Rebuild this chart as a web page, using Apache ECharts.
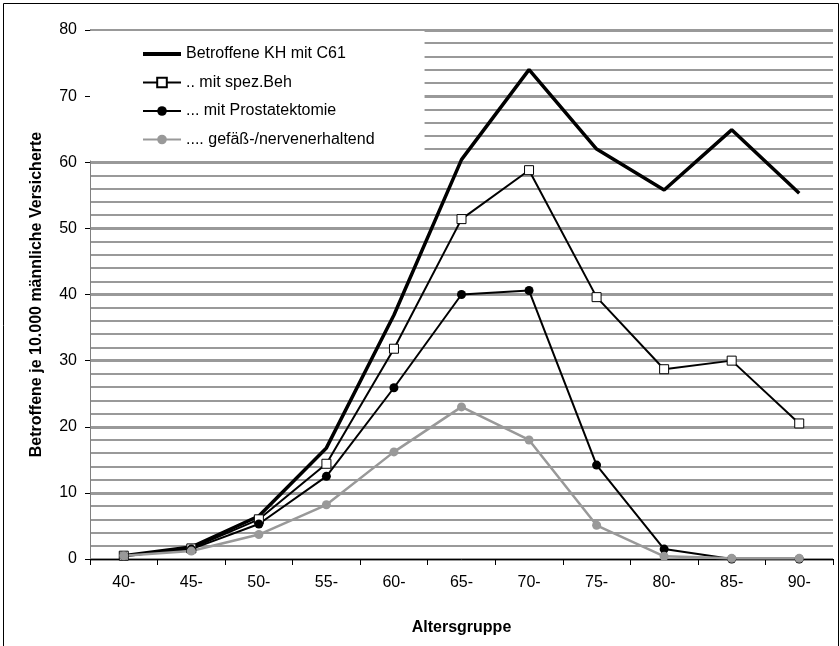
<!DOCTYPE html>
<html>
<head>
<meta charset="utf-8">
<title>Betroffene je Altersgruppe</title>
<script src="https://cdn.jsdelivr.net/npm/echarts@6/dist/echarts.min.js"></script>
<style>
    html, body { margin: 0; padding: 0; background: #fff; }
    #chart { width: 840px; height: 646px; }
</style>
</head>
<body>
<div id="chart"></div>
<script>
// Altersgruppen
var ageGroups = ['40-', '45-', '50-', '55-', '60-', '65-', '70-', '75-', '80-', '85-', '90-'];

// Betroffene je 10.000 männliche Versicherte
var khC61 = [0.5, 1.8, 6.5, 16.8, 36.9, 60.4, 74.0, 62.0, 55.8, 64.9, 55.3];
var spezBeh = [0.5, 1.6, 6.0, 14.4, 31.8, 51.4, 58.8, 39.6, 28.7, 30.0, 20.5];
var prostatektomie = [0.5, 1.5, 5.3, 12.5, 25.9, 40.0, 40.6, 14.2, 1.5, 0, 0];
var nervenerhaltend = [0.5, 1.2, 3.7, 8.2, 16.2, 23.0, 18.0, 5.1, 0.4, 0.1, 0.1];

var seriesNames = ['Betroffene KH mit C61', '.. mit spez.Beh', '... mit Prostatektomie', '.... gefäß-/nervenerhaltend'];

(function () {
    var chart = echarts.init(document.getElementById('chart'));
    var font = 'Liberation Sans, Arial, sans-serif';
    var grey = '#999999';

    chart.setOption({
        animation: false,
        textStyle: { fontFamily: font },
        // Rahmen um das ganze Bild
        graphic: [{
            type: 'rect',
            shape: { x: 3.5, y: 3.5, width: 835, height: 660 },
            style: { fill: null, stroke: '#000', lineWidth: 1 },
            silent: true
        }],
        grid: {
            left: 90,
            right: 7,
            top: 30,
            bottom: 87
        },
        legend: {
            orient: 'vertical',
            left: 90,
            top: 31,
            padding: [15, 50, 13, 52],
            itemGap: 12.5,
            itemWidth: 38,
            itemHeight: 12,
            backgroundColor: '#fff',
            textStyle: { fontSize: 16, color: '#000', fontFamily: font },
            data: [
                // nur Linie, kein Symbol
                { name: seriesNames[0], icon: 'path://M0,0H38V4H0Z' },
                seriesNames[1],
                seriesNames[2],
                seriesNames[3]
            ]
        },
        xAxis: {
            type: 'category',
            data: ageGroups,
            boundaryGap: true,
            name: 'Altersgruppe',
            nameLocation: 'middle',
            nameGap: 61,
            nameTextStyle: { fontSize: 16, fontWeight: 'bold', color: '#000' },
            axisLine: { lineStyle: { color: '#000', width: 1 } },
            axisTick: { show: true, length: 6, lineStyle: { color: '#000' } },
            axisLabel: { fontSize: 16, color: '#000', margin: 16 },
            splitLine: { show: false }
        },
        yAxis: {
            type: 'value',
            min: 0,
            max: 80,
            interval: 10,
            name: 'Betroffene je 10.000 männliche Versicherte',
            nameLocation: 'middle',
            nameGap: 45,
            nameTextStyle: { fontSize: 16, fontWeight: 'bold', color: '#000' },
            axisLine: { show: true, lineStyle: { color: '#808080', width: 1 } },
            axisTick: { show: true, length: 5, lineStyle: { color: '#000' } },
            axisLabel: { fontSize: 16, color: '#000', margin: 13 },
            splitLine: { show: true, lineStyle: { color: grey, width: 3 } },
            minorTick: { show: false, splitNumber: 5 },
            minorSplitLine: { show: true, lineStyle: { color: grey, width: 2 } }
        },
        series: [
            {
                name: seriesNames[0],
                type: 'line',
                data: khC61,
                symbol: 'none',
                lineStyle: { color: '#000', width: 3.5 },
                itemStyle: { color: '#000' }
            },
            {
                name: seriesNames[1],
                type: 'line',
                data: spezBeh,
                symbol: 'rect',
                symbolSize: 9,
                lineStyle: { color: '#000', width: 2 },
                itemStyle: { color: '#fff', borderColor: '#000', borderWidth: 1 }
            },
            {
                name: seriesNames[2],
                type: 'line',
                data: prostatektomie,
                symbol: 'circle',
                symbolSize: 9,
                lineStyle: { color: '#000', width: 2 },
                itemStyle: { color: '#000' }
            },
            {
                name: seriesNames[3],
                type: 'line',
                data: nervenerhaltend,
                symbol: 'circle',
                symbolSize: 9,
                lineStyle: { color: grey, width: 2.5 },
                itemStyle: { color: grey }
            }
        ]
    });
})();
</script>
</body>
</html>
